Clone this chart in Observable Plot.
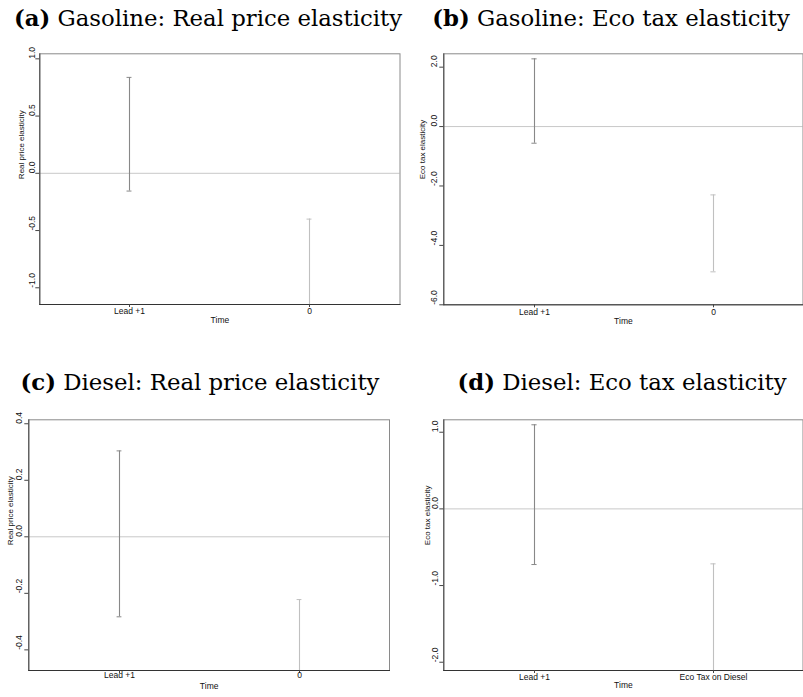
<!DOCTYPE html>
<html>
<head>
<meta charset="utf-8">
<script src="https://cdn.jsdelivr.net/npm/d3@7"></script>
<script src="https://cdn.jsdelivr.net/npm/@observablehq/plot@0.6"></script>
<style>
  html, body { margin: 0; padding: 0; background: #fff; }
  #wrap { position: relative; width: 803px; height: 697px; overflow: hidden; }
  .ttl { position: absolute; white-space: nowrap; font-family: "DejaVu Serif", "Liberation Serif", serif; font-size: 22.8px; color: #000; transform: translateX(-50%); line-height: 28px; }
  .ttl b { font-weight: bold; }
  .pnl { position: absolute; }
</style>
</head>
<body>
<div id="wrap"></div>
<script>
// ---------- data ----------
const periodsGas = ["Lead +1", "0"];
const periodsDieselReal = ["Lead +1", "0"];
const periodsDieselEco = ["Lead +1", "Eco Tax on Diesel"];

// confidence intervals (low / high) per period
const gasRealLow  = [-0.155, -1.30];
const gasRealHigh = [ 0.838, -0.40];
const gasEcoLow   = [-0.56, -4.89];
const gasEcoHigh  = [ 2.28, -2.30];
const dieRealLow  = [-0.283, -0.55];
const dieRealHigh = [ 0.304, -0.222];
const dieEcoLow   = [-0.726, -2.40];
const dieEcoHigh  = [ 1.097, -0.717];

// tick labels
const ticksGasReal = [1.0, 0.5, 0.0, -0.5, -1.0];
const ticksGasEco  = [2.0, 0.0, -2.0, -4.0, -6.0];
const ticksDieReal = [0.4, 0.2, 0.0, -0.2, -0.4];
const ticksDieEco  = [1.0, 0.0, -1.0, -2.0];

const titles = [
  ["(a)", "Gasoline: Real price elasticity"],
  ["(b)", "Gasoline: Eco tax elasticity"],
  ["(c)", "Diesel: Real price elasticity"],
  ["(d)", "Diesel: Eco tax elasticity"]
];
const yLabels = ["Real price elasticity", "Eco tax elasticity", "Real price elasticity", "Eco tax elasticity"];
const xLabel = "Time";

// ---------- layout ----------
const wrap = document.getElementById("wrap");
const barColors = ["#888888", "#c0c0c0"];
const fmt = d => d.toFixed(1);

function panel(cfg) {
  const rows = cfg.periods.map((p, i) => ({p, lo: cfg.lo[i], hi: cfg.hi[i], c: barColors[i]}));
  const plotW = cfg.width - cfg.mL - cfg.mR;
  const plotH = cfg.height - cfg.mT - cfg.mB;
  const bw = plotW / 4;
  const capInset = (bw - 5) / 2;
  const svg = Plot.plot({
    width: cfg.width,
    height: cfg.height,
    marginLeft: cfg.mL,
    marginRight: cfg.mR,
    marginTop: cfg.mT,
    marginBottom: cfg.mB,
    style: "background: transparent; overflow: visible; font-family: 'Liberation Sans', Arial, sans-serif; font-size: 8.5px; color: #111;",
    x: {type: "band", domain: cfg.periods, paddingInner: 0.5, paddingOuter: 0.25, axis: null},
    y: {domain: cfg.domain, axis: null},
    color: {type: "identity"},
    marks: [
      Plot.ruleY([0], {stroke: "#c8c8c8", strokeWidth: 1}),
      Plot.ruleX(rows, {x: "p", y1: "lo", y2: "hi", stroke: "c", strokeWidth: 1.1, clip: true}),
      Plot.tickY(rows, {x: "p", y: "hi", stroke: "c", insetLeft: capInset, insetRight: capInset, clip: true}),
      Plot.tickY(rows, {x: "p", y: "lo", stroke: "c", insetLeft: capInset, insetRight: capInset, clip: true}),
      Plot.frame({stroke: "#8a8a8a"}),
      Plot.frame({anchor: "left", stroke: "#444"}),
      Plot.frame({anchor: "bottom", stroke: "#333"}),
      // y ticks (short marks left of frame)
      Plot.tickY(cfg.ticks, {y: d => d, stroke: "#444", insetLeft: -4, insetRight: plotW}),
      // y tick labels, rotated
      Plot.text(cfg.ticks, {y: d => d, text: fmt, frameAnchor: "left", dx: -cfg.yTickOff, rotate: -90, fontSize: 8.5, fill: "#111"}),
      // x ticks and labels
      Plot.tickX(cfg.periods, {x: d => d, stroke: "#444", insetTop: plotH, insetBottom: -3}),
      Plot.text(cfg.periods, {x: d => d, text: d => d, frameAnchor: "bottom", dy: cfg.xTickOff, fontSize: 8.5, fill: "#111"}),
      Plot.text([xLabel], {frameAnchor: "bottom", dy: cfg.timeOff, fontSize: 8.5, fill: "#111"}),
      Plot.text([cfg.yLabel], {frameAnchor: "left", dx: -cfg.yLabOff, rotate: -90, fontSize: 8, fill: "#111"})
    ]
  });
  svg.classList.add("pnl");
  svg.style.left = cfg.left + "px";
  svg.style.top = cfg.top + "px";
  wrap.appendChild(svg);
}

function title(i, cx, top) {
  const d = document.createElement("div");
  d.className = "ttl";
  d.style.left = cx + "px";
  d.style.top = top + "px";
  const b = document.createElement("b");
  b.textContent = titles[i][0];
  d.appendChild(b);
  d.appendChild(document.createTextNode(" " + titles[i][1]));
  wrap.appendChild(d);
}

panel({periods: periodsGas, lo: gasRealLow, hi: gasRealHigh, ticks: ticksGasReal, yLabel: yLabels[0],
  domain: [-1.146, 1.044], left: 0, top: 40, width: 401, height: 300, mL: 39.3, mR: 1.5, mT: 13.3, mB: 36,
  yTickOff: 7.6, yLabOff: 18.6, xTickOff: 9.7, timeOff: 18.7});
panel({periods: periodsGas, lo: gasEcoLow, hi: gasEcoHigh, ticks: ticksGasEco, yLabel: yLabels[1],
  domain: [-6.0, 2.45], left: 400, top: 40, width: 403, height: 300, mL: 43.3, mR: 0.5, mT: 13.3, mB: 35.7,
  yTickOff: 10, yLabOff: 21, xTickOff: 9.7, timeOff: 18.7});
panel({periods: periodsDieselReal, lo: dieRealLow, hi: dieRealHigh, ticks: ticksDieReal, yLabel: yLabels[2],
  domain: [-0.473, 0.414], left: 0, top: 406, width: 391, height: 291, mL: 28.3, mR: 2, mT: 13.3, mB: 27,
  yTickOff: 10, yLabOff: 18.3, xTickOff: 7.5, timeOff: 18.5});
panel({periods: periodsDieselEco, lo: dieEcoLow, hi: dieEcoHigh, ticks: ticksDieEco, yLabel: yLabels[3],
  domain: [-2.108, 1.162], left: 400, top: 406, width: 403, height: 291, mL: 43.3, mR: 0.5, mT: 13.3, mB: 27,
  yTickOff: 9, yLabOff: 16.6, xTickOff: 9, timeOff: 17.7});

title(0, 208, 4);
title(1, 611, 4);
title(2, 200, 368);
title(3, 622, 368);
</script>
</body>
</html>
